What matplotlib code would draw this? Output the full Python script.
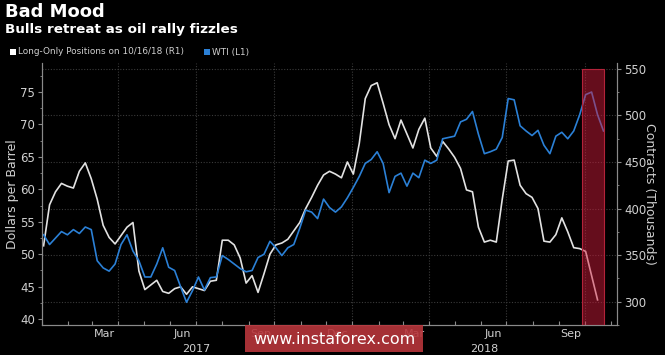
import numpy as np
import pandas as pd
import matplotlib
matplotlib.use("Agg")
from matplotlib import pyplot as plt
import matplotlib.dates as mdates
import matplotlib.transforms as mtransforms
from matplotlib.patches import Rectangle

# weekly observations, Jan 2017 - Oct 2018
weeks = pd.date_range("2017-01-03", periods=95, freq="7D")

# WTI crude, dollars per barrel (left axis)
wti = [53.0, 51.5, 52.5, 53.5, 53.0, 53.8, 53.2, 54.2, 53.8, 49.0,
       47.9, 47.4, 48.5, 51.5, 53.0, 50.5, 49.0, 46.5, 46.5, 48.5,
       51.0, 48.0, 47.5, 45.0, 42.6, 44.4, 46.5, 44.5, 46.4, 46.5,
       49.8, 49.2, 48.5, 47.8, 47.3, 47.5, 49.5, 50.0, 52.0, 51.0,
       49.8, 51.0, 51.5, 54.0, 56.8, 56.5, 55.5, 58.5, 57.2, 56.5,
       57.3, 58.7, 60.3, 62.0, 64.0, 64.6, 65.8, 64.0, 59.5, 62.0,
       62.5, 60.5, 62.5, 61.8, 64.5, 64.0, 64.5, 67.8, 68.0, 68.2,
       70.4, 70.8, 72.0, 68.5, 65.5, 65.8, 66.2, 68.0, 74.0, 73.8,
       69.8, 69.0, 68.3, 69.1, 66.8, 65.5, 68.2, 68.8, 67.8, 69.0,
       71.5, 74.6, 75.0, 71.5, 69.0]

# long-only positions, thousands of contracts (right axis), to 10/16/18
long_only = [360, 404, 418, 427, 424, 422, 440, 449, 432, 410,
             382, 369, 362, 371, 380, 385, 333, 313, 318, 323,
             311, 309, 314, 316, 308, 316, 314, 312, 322, 323,
             366, 366, 361, 347, 320, 328, 310, 330, 351, 361,
             363, 367, 376, 385, 400, 412, 425, 436, 440, 437,
             433, 450, 437, 470, 518, 532, 535, 513, 490, 475,
             495, 480, 465, 485, 497, 465, 456, 472, 464, 455,
             443, 420, 418, 380, 364, 366, 364, 410, 451, 452,
             425, 416, 412, 400, 365, 364, 372, 390, 375, 358,
             357, 354, 328, 302]

highlight = ("2018-09-28", "2018-10-24")
left_ticks = [40, 45, 50, 55, 60, 65, 70, 75]
right_ticks = [300, 350, 400, 450, 500, 550]

txt = "#d0d0d0"
axis_col = "#8a8a8a"

fig = plt.figure(figsize=(6.65, 3.55), dpi=100, facecolor="black")
ax = fig.add_axes([0.063, 0.0845, 0.865, 0.7385], facecolor="black")
ax2 = ax.twinx()
# contracts on the right (bottom axes, carries the grid), dollars on the left
ax.yaxis.tick_right()
ax.yaxis.set_label_position("right")
ax2.yaxis.tick_left()
ax2.yaxis.set_label_position("left")

ax.plot(weeks[:len(long_only)], long_only, color="#e2e2e2", lw=1.2)
ax2.plot(weeks[:len(wti)], wti, color="#2b80d6", lw=1.2)

ax.set_ylim(277.7, 556.4)
ax2.set_ylim(39.1, 79.5)
ax.set_xlim(pd.Timestamp("2017-01-01"), pd.Timestamp("2018-11-08"))

ax.set_yticks(right_ticks)
ax.set_yticks(np.arange(275, 560, 25), minor=True)
ax2.set_yticks(left_ticks)
ax2.set_yticks(np.arange(40, 80, 2.5), minor=True)

ax.yaxis.grid(True, color="#3a3a3a", ls=(0, (1, 1.5)), lw=0.8)
for q in pd.date_range("2017-04-01", "2018-10-01", freq="QS"):
    ax.axvline(q, color="#3a3a3a", ls=(0, (1, 1.5)), lw=0.8, zorder=0)

# x axis: month ticks, quarter-month labels
ax.xaxis.set_major_locator(mdates.MonthLocator())
ax.xaxis.set_major_formatter(plt.NullFormatter())
ax.xaxis.set_minor_locator(mdates.MonthLocator(bymonth=[3, 6, 9, 12], bymonthday=15))
ax.xaxis.set_minor_formatter(mdates.DateFormatter("%b"))
ax.tick_params(axis="x", which="major", direction="in", length=3, color=axis_col)
ax.tick_params(axis="x", which="minor", length=0, labelsize=8, labelcolor=txt, pad=3)

for a in (ax, ax2):
    a.tick_params(axis="y", which="major", direction="out", length=3, color=axis_col,
                  labelsize=8.5, labelcolor=txt, pad=2)
    a.tick_params(axis="y", which="minor", direction="out", length=1.5, color=axis_col)
    a.spines["top"].set_visible(False)
    for s in ("left", "right", "bottom"):
        a.spines[s].set_color(axis_col)
        a.spines[s].set_linewidth(0.8)

ax2.set_ylabel("Dollars per Barrel", color=txt, fontsize=9)
ax2.yaxis.set_label_coords(-0.04, 0.5)
ax.set_ylabel("Contracts (Thousands)", color=txt, fontsize=9, rotation=270)
ax.yaxis.set_label_coords(1.068, 0.5)

trans = mtransforms.blended_transform_factory(ax.transData, ax.transAxes)
for yr, mid in (("2017", "2017-07-01"), ("2018", "2018-06-05")):
    ax.text(pd.Timestamp(mid), -0.09, yr, transform=trans, ha="center", va="center",
            color=txt, fontsize=8)

top_frac = (550 - 277.7) / (556.4 - 277.7)
ax2.axvspan(pd.Timestamp(highlight[0]), pd.Timestamp(highlight[1]), ymin=0, ymax=top_frac,
            facecolor="#d41c3c", alpha=0.48, edgecolor="none", zorder=5)
ax2.axvspan(pd.Timestamp(highlight[0]), pd.Timestamp(highlight[1]), ymin=0, ymax=top_frac,
            facecolor="none", edgecolor="#b3233a", lw=0.8, zorder=6)

# titles and legend
fig.text(5 / 665, 1 - 12 / 355, "Bad Mood", color="white", fontsize=13,
         fontweight="bold", va="center")
fig.text(5 / 665, 1 - 30 / 355, "Bulls retreat as oil rally fizzles", color="white",
         fontsize=9.7, fontweight="bold", va="center")
fig.add_artist(Rectangle((10 / 665, 1 - 55 / 355), 6 / 665, 6 / 355,
                         transform=fig.transFigure, facecolor="white", edgecolor="none"))
fig.text(18 / 665, 1 - 52 / 355, "Long-Only Positions on 10/16/18 (R1)", color=txt,
         fontsize=6.4, va="center")
fig.add_artist(Rectangle((204 / 665, 1 - 55 / 355), 6 / 665, 6 / 355,
                         transform=fig.transFigure, facecolor="#2b80d6", edgecolor="none"))
fig.text(212 / 665, 1 - 52 / 355, "WTI (L1)", color=txt, fontsize=6.4, va="center")

# watermark
fig.add_artist(Rectangle((245 / 665, 3 / 355), 178 / 665, 27 / 355,
                         transform=fig.transFigure, facecolor="#b8363c", alpha=0.9,
                         edgecolor="none", zorder=10))
fig.text(334 / 665, 1 - 339 / 355, "www.instaforex.com", color="white", fontsize=11.5,
         ha="center", va="center", zorder=11)

fig.savefig("out.png", dpi=100, facecolor="black")
